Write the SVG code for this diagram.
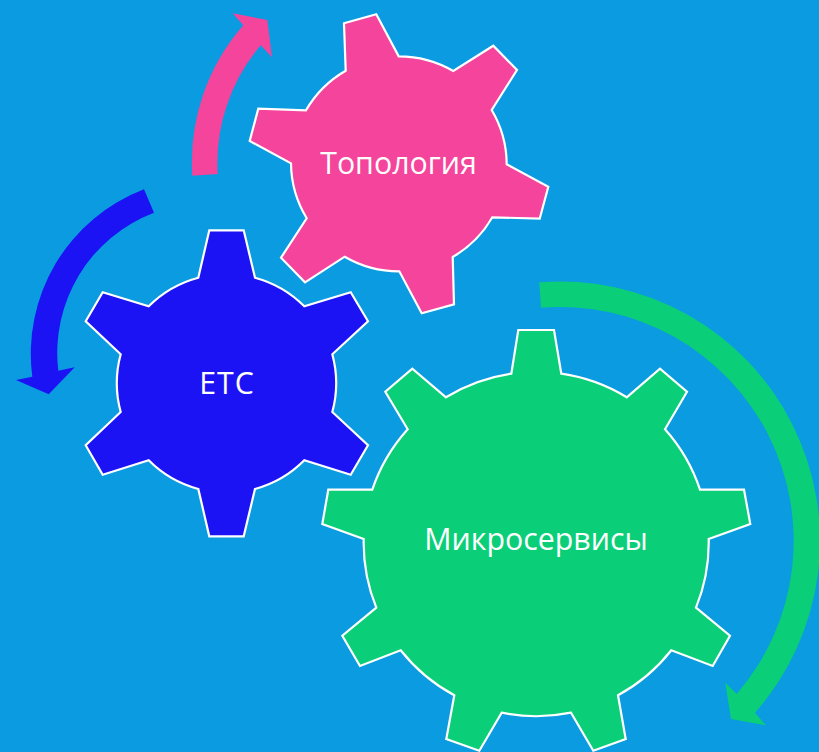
<svg xmlns="http://www.w3.org/2000/svg" width="819" height="752" viewBox="0 0 819 752">
<style>
.gear{stroke:#fff;stroke-width:2.2;stroke-linejoin:miter}
.lbl{font-family:"Open Sans","Noto Sans","Liberation Sans",sans-serif;font-size:30.300px;fill:#fff;text-anchor:middle}
.pink{fill:#F5449B}.blue{fill:#1C13F5}.green{fill:#0ACF78}
</style>
<rect width="819" height="752" fill="#0B9BE0"/>
<g id="connectors">
<path class="pink" d="M192.300 175.700A207.500 207.500 0 0 1 243.300 25.300L232.700 13.300L267.300 20L272 57.300L260.700 45.300A182 182 0 0 0 217.700 174Z"/>
<path class="blue" d="M144 189.300A176 176 0 0 0 32.300 376.700L16 380L48.700 394.300L74.700 367.300L58.300 370.700A150 150 0 0 1 154 212.700Z"/>
<path class="green" d="M539.300 282.300A259.500 259.500 0 0 1 755 712.700L765.700 725.300L731 719L725.300 682.700L736.700 694A234 234 0 0 0 541 307.700Z"/>
</g>
<g id="node-topology">
<path class="gear pink" d="M344 23.300L376.300 14.300L398.700 56.300A108 108 0 0 1 453.300 71L493.300 45.700L517 70L491.700 110A108 108 0 0 1 506.700 164.300L548.300 186.700L539.700 218.700L492.300 217.300A108 108 0 0 1 452.700 257L454 304.300L421.700 313.300L399.300 271.300A108 108 0 0 1 344.700 256.700L305 282.300L281 257.700L306.700 218.300A108 108 0 0 1 291 163.300L249.700 141L258.300 108.700L306 110.300A108 108 0 0 1 345.700 70.700Z"/>
<text class="lbl" x="398.500" y="173.500">Топология</text>
</g>
<g id="node-etc">
<path class="gear blue" d="M209.300 230.300L243.700 230.300L255 277.700A110 110 0 0 1 304.300 306.300L350.700 292.300L368 321.300L332.300 354.300A110 110 0 0 1 332.300 412L368 445.300L350.700 474.700L304.300 460.300A110 110 0 0 1 255 489L243.700 536.300L209.300 536.300L198.300 489A110 110 0 0 1 148.700 460.300L102.700 474.700L85.700 445.300L120.700 412A110 110 0 0 1 120.700 354.300L85.700 321.300L102.700 292.300L148.700 306.300A110 110 0 0 1 198.300 277.700Z"/>
<text class="lbl" x="227" y="393.500" style="letter-spacing:1px">ETC</text>
</g>
<g id="node-microservices">
<path class="gear green" d="M518.300 330L554 330L561.300 373.700A172 172 0 0 1 626.700 397.300L660 368.700L687 391.700L665 429.300A172 172 0 0 1 700 489.700L744 489.700L750.300 524L708.700 539A172 172 0 0 1 696 607.700L730 635.700L712.700 666L671.300 650.300A172 172 0 0 1 618 695.300L625.700 739L593.300 750.700L571 712.700A172 172 0 0 1 501.700 712.700L479.300 750.700L446.300 739L454.300 695.300A172 172 0 0 1 400.700 650.300L360 666L342.300 635.700L376.300 607.700A172 172 0 0 1 363.700 539L322.300 524L328.300 489.700L372.300 489.700A172 172 0 0 1 407.700 429.300L385.300 391.700L412.300 368.700L446 397.300A172 172 0 0 1 511.300 373.700Z"/>
<text class="lbl" x="536" y="549.500">Микросервисы</text>
</g>
</svg>
